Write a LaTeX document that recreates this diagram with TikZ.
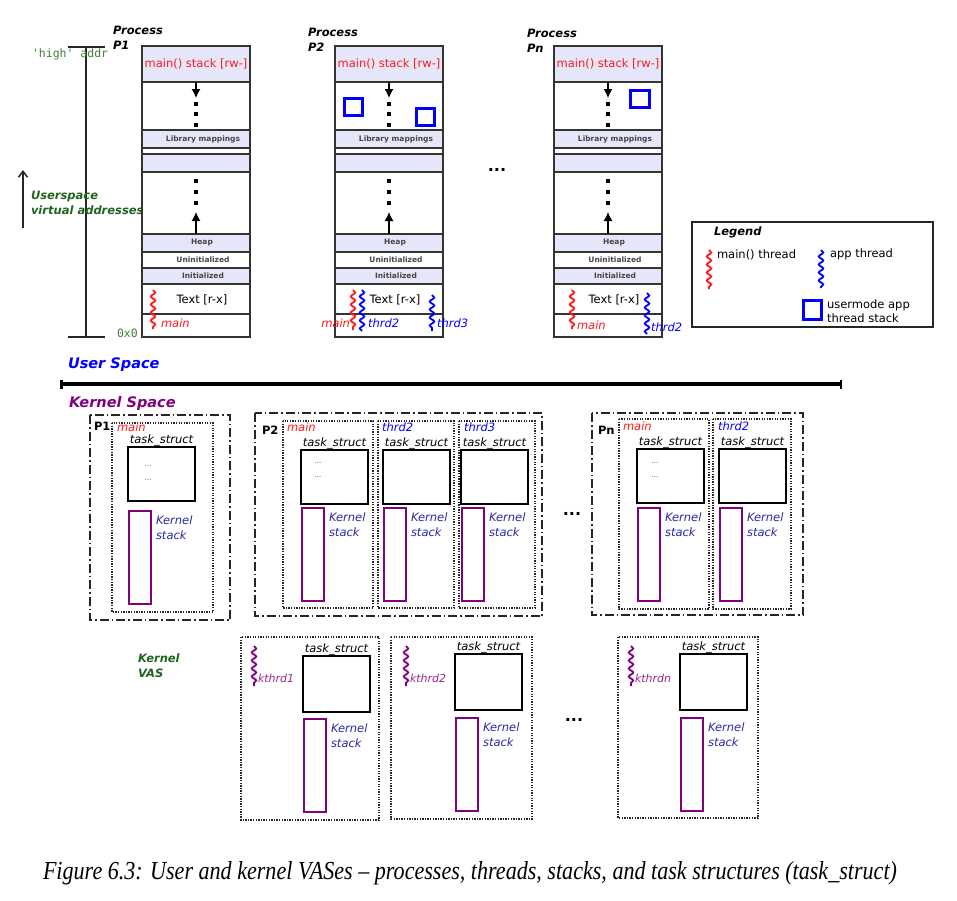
\documentclass[tikz,border=0pt]{standalone}
\usepackage{fontspec}
\setmainfont{DejaVu Sans}
\setmonofont{DejaVu Sans Mono}
\newfontfamily\capfont{Liberation Serif}
\usetikzlibrary{arrows.meta,decorations.pathmorphing,calc}
\definecolor{lav}{RGB}{230,230,250}
\definecolor{myred}{RGB}{255,25,25}
\definecolor{myblue}{RGB}{0,0,255}
\definecolor{kblue}{RGB}{40,40,170}
\definecolor{kpurple}{RGB}{128,0,128}
\definecolor{kthcol}{RGB}{150,40,150}
\definecolor{dgreen}{RGB}{30,100,30}
\definecolor{mgreen}{RGB}{60,130,60}
\definecolor{segtxt}{RGB}{70,70,70}
\newcommand\fn{\fontsize{11.5}{14}\selectfont}
\newcommand\ktask[5]{%
  \node[tsbox,anchor=north west,minimum width=67pt,minimum height=#5pt] (#1-ts) at (#2,#3) {};
  \node[tslab,anchor=south] (#1-tsl) at ([yshift=1pt]#1-ts.north) {task\_struct};
  \node[kstk,anchor=north west,minimum width=22pt,minimum height=93pt] (#1-ks) at ({#2+1},#4) {};
  \node[kslab,anchor=north west] (#1-ksl) at ([xshift=5pt,yshift=-5pt]#1-ks.north east) {Kernel\\stack};
}
\tikzset{
  band/.style={draw=black!80,line width=1.6pt,fill=lav},
  cell/.style={draw=black!80,line width=1.6pt,fill=white},
  seg/.style={font=\fontsize{7.5}{9}\selectfont\bfseries,text=segtxt},
  mthr/.style={draw=myred,line width=1.8pt,decorate,decoration={snake,amplitude=2.2pt,segment length=8pt}},
  athr/.style={mthr,draw=myblue},
  kthr/.style={mthr,draw=kpurple},
  ustk/.style={draw=myblue,line width=3pt},
  tsbox/.style={draw=black,line width=2.6pt},
  kstk/.style={draw=kpurple,line width=2pt},
  outerbox/.style={draw=black!85,line width=1.4pt,dash pattern=on 9pt off 3pt on 1.5pt off 3pt},
  innerbox/.style={draw=black!85,line width=1.3pt,dash pattern=on 1.3pt off 1.3pt},
  tslab/.style={font=\fn\itshape,inner sep=0pt},
  kslab/.style={font=\fontsize{11.5}{15}\selectfont\itshape,text=kblue,align=left},
  plab/.style={font=\fontsize{11.5}{15}\selectfont\bfseries\itshape,align=left,anchor=west},
  ellip/.style={font=\fontsize{16}{18}\selectfont\bfseries},
  tdots/.style={font=\fontsize{7}{8}\selectfont,text=black!70},
  dotsq/.style={fill=black},
  ucol/.pic={
    \path[band] (0,0) rectangle (108,36);
    \node[font=\fn,text=myred] (-stk) at (54,18) {main() stack [rw-]};
    \path[cell] (0,36) rectangle (108,84);
    \path[band] (0,84) rectangle (108,102);
    \node[seg] (-lib) at (61,93) {Library mappings};
    \path[cell] (0,102) rectangle (108,108);
    \path[band] (0,108) rectangle (108,126);
    \path[cell] (0,126) rectangle (108,188);
    \path[band] (0,188) rectangle (108,206);
    \node[seg] (-heap) at (60,197) {Heap};
    \path[cell] (0,206) rectangle (108,222);
    \node[seg] (-uninit) at (61,214) {Uninitialized};
    \path[band] (0,222) rectangle (108,238);
    \node[seg] (-init) at (61,230) {Initialized};
    \path[cell] (0,238) rectangle (108,268);
    \node[font=\fn] (-text) at (60,254) {Text [r-x]};
    \path[cell] (0,268) rectangle (108,291);
    \coordinate (-dtop) at (54,36);
    \coordinate (-dtip) at (54,52);
    \draw[line width=1.2pt,-{Latex[length=9pt,width=9pt]}] (-dtop) -- (-dtip);
    \foreach \yy in {58,68,79} {\fill[dotsq] (52.2,{\yy-1.8}) rectangle (55.8,{\yy+1.8});}
    \coordinate (-ubot) at (54,188);
    \coordinate (-utip) at (54,166);
    \draw[line width=1.2pt,-{Latex[length=9pt,width=9pt]}] (-ubot) -- (-utip);
    \foreach \yy in {135,146,157} {\fill[dotsq] (52.2,{\yy-1.8}) rectangle (55.8,{\yy+1.8});}
  }
}
\begin{document}
\begin{tikzpicture}[x=1pt,y=-1pt,every node/.style={inner sep=0pt,outer sep=0pt,font=\fn}]
\useasboundingbox[fill=white] (0,0) rectangle (957,900);

% ---------------- user space ----------------
\node[plab] (lp1) at (113,37.5) {Process\\P1};
\node[plab] (lp2) at (308,39.5) {Process\\P2};
\node[plab] (lpn) at (527,41) {Process\\Pn};

% address axis
\coordinate (axt) at (86,47);
\coordinate (axb) at (86,337);
\draw[line width=1.8pt,black!85] (axt) -- (axb);
\draw[line width=1.8pt,black!85] (68,47) -- (105,47);
\draw[line width=1.8pt,black!85] (68,337) -- (105,337);
\node[font=\fn\ttfamily,text=mgreen,anchor=west] (high) at (32,54) {'high' addr};
\node[font=\fn\ttfamily,text=mgreen,anchor=west] (zero) at (117,333) {0x0};
\coordinate (uab) at (23,228);
\coordinate (uat) at (23,170);
\draw[line width=1.5pt,black!85,-{Straight Barb[length=6pt,width=9pt]}] (uab) -- (uat);
\node[plab,text=dgreen] (uva) at (31,203) {Userspace\\virtual addresses};

\pic (c1) at (142,46) {ucol};
\pic (c2) at (335,46) {ucol};
\pic (cn) at (554,46) {ucol};

% usermode app thread stacks
\draw[ustk] (344,98) rectangle (362,115);
\draw[ustk] (416,108) rectangle (434,125);
\draw[ustk] (630,90) rectangle (649,107);

% threads in P1
\draw[mthr] (153,290) -- (153,329);
\node[font=\fn\itshape,text=myred,anchor=west] (t1m) at (161,323) {main};
% threads in P2
\draw[mthr] (353,290) -- (353,330);
\draw[athr] (362,290) -- (362,331);
\draw[athr] (432,295) -- (432,331);
\node[font=\fn\itshape,text=myred,anchor=east] (t2m) at (350,323) {main};
\node[font=\fn\itshape,text=myblue,anchor=west] (t2t2) at (368,323) {thrd2};
\node[font=\fn\itshape,text=myblue,anchor=west] (t2t3) at (437,323) {thrd3};
% threads in Pn
\draw[mthr] (572,290) -- (572,329);
\draw[athr] (647,293) -- (647,334);
\node[font=\fn\itshape,text=myred,anchor=west] (tnm) at (577,325) {main};
\node[font=\fn\itshape,text=myblue,anchor=west] (tnt2) at (651,327) {thrd2};

\node[ellip] (e1) at (497,170) {...};

% legend
\draw[line width=1.8pt,black!85] (692,222) rectangle (933,327);
\node[font=\fn\bfseries\itshape,anchor=west] (leg) at (714,232) {Legend};
\draw[mthr] (709,250) -- (709,289);
\node[anchor=west] (legm) at (717,255) {main() thread};
\draw[athr] (821,250) -- (821,288);
\node[anchor=west] (lega) at (830,254) {app thread};
\draw[ustk] (803,300) rectangle (821,319);
\node[anchor=west,align=left,font=\fontsize{11.5}{14}\selectfont] (legs) at (827,311) {usermode app\\thread stack};

% separator
\node[font=\fontsize{14.5}{17}\selectfont\bfseries\itshape,text=myblue,anchor=west] (us) at (68,365) {User Space};
\coordinate (sepl) at (60,384);
\coordinate (sepr) at (842,384);
\draw[line width=3.5pt,{Bar[width=9pt,line width=2.5pt]}-{Bar[width=9pt,line width=2.5pt]}] (sepl) -- (sepr);
\node[font=\fontsize{14.5}{17}\selectfont\bfseries\itshape,text=kpurple,anchor=west] (ks) at (69,403) {Kernel Space};

% ---------------- kernel: processes ----------------
% P1
\draw[outerbox] (90,415) rectangle (230,620);
\node[font=\fn\bfseries,anchor=west] (kp1) at (94,426) {P1};
\draw[innerbox] (112,423) rectangle (213,612);
\node[font=\fn\itshape,text=myred,anchor=west] (kp1ml) at (117,427) {main};
\ktask{kp1m}{128}{447}{511}{54}
\node[tdots] (kp1d1) at (148,466) {...};
\node[tdots] (kp1d2) at (148,480) {...};

% P2
\draw[outerbox] (255,413) rectangle (542,616);
\node[font=\fn\bfseries,anchor=west] (kp2) at (262,430) {P2};
\draw[innerbox] (283,421) rectangle (373,608);
\draw[innerbox] (378,421) rectangle (454,608);
\draw[innerbox] (459,421) rectangle (535,608);
\node[font=\fn\itshape,text=myred,anchor=west] (kp2ml) at (287,427) {main};
\node[font=\fn\itshape,text=myblue,anchor=west] (kp2t2l) at (382,427) {thrd2};
\node[font=\fn\itshape,text=myblue,anchor=west] (kp2t3l) at (464,427) {thrd3};
\ktask{kp2m}{301}{450}{508}{54}
\ktask{kp2t2}{383}{450}{508}{54}
\ktask{kp2t3}{461}{450}{508}{54}
\node[tdots] (kp2d1) at (318,463) {...};
\node[tdots] (kp2d2) at (318,477) {...};

\node[ellip] (e2) at (572,514) {...};

% Pn
\draw[outerbox] (592,413) rectangle (803,615);
\node[font=\fn\bfseries,anchor=west] (kpn) at (598,430) {Pn};
\draw[innerbox] (619,419) rectangle (709,609);
\draw[innerbox] (713,419) rectangle (791,609);
\node[font=\fn\itshape,text=myred,anchor=west] (kpnml) at (623,426) {main};
\node[font=\fn\itshape,text=myblue,anchor=west] (kpnt2l) at (718,426) {thrd2};
\ktask{kpnm}{637}{449}{508}{54}
\ktask{kpnt2}{719}{449}{508}{54}
\node[tdots] (kpnd1) at (655,463) {...};
\node[tdots] (kpnd2) at (655,477) {...};

% ---------------- kernel VAS ----------------
\node[plab,text=dgreen] (kvas) at (138,666) {Kernel\\VAS};

\draw[innerbox] (241,637) rectangle (379,820);
\draw[kthr] (254,646) -- (254,686);
\node[font=\fontsize{11}{13}\selectfont\itshape,text=kthcol,anchor=west] (kv1l) at (258,678) {kthrd1};
\ktask{kv1}{303}{656}{719}{56}

\draw[innerbox] (391,637) rectangle (532,819);
\draw[kthr] (406,646) -- (406,686);
\node[font=\fontsize{11}{13}\selectfont\itshape,text=kthcol,anchor=west] (kv2l) at (410,678) {kthrd2};
\ktask{kv2}{455}{654}{718}{56}

\node[ellip] (e3) at (574,720) {...};

\draw[innerbox] (618,637) rectangle (758,818);
\draw[kthr] (631,646) -- (631,686);
\node[font=\fontsize{11}{13}\selectfont\itshape,text=kthcol,anchor=west] (kv3l) at (635,678) {kthrdn};
\ktask{kv3}{680}{654}{718}{56}

% caption
\node[anchor=base west] (cap) at (43,879) {\resizebox{854pt}{18pt}{\capfont\itshape\fontsize{20}{24}\selectfont Figure 6.3: User and kernel VASes – processes, threads, stacks, and task structures (task\_struct)}};
\end{tikzpicture}
\end{document}
